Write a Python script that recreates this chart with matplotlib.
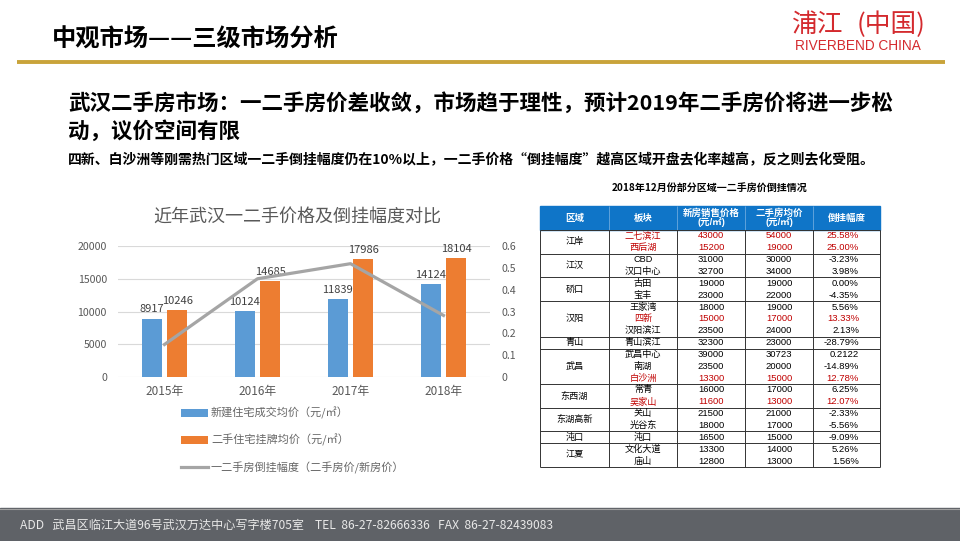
import matplotlib
matplotlib.use('Agg')
import matplotlib.pyplot as plt
import numpy as np
from matplotlib.patches import Rectangle

plt.rcParams['font.family'] = ['Noto Sans CJK SC', 'DejaVu Sans']

W, H = 960, 541

# chart data
years = ['2015年', '2016年', '2017年', '2018年']
new_price = [8917, 10124, 11839, 14124]
second_price = [10246, 14685, 17986, 18104]
gap_ratio = [0.149, 0.450, 0.519, 0.282]
series_names = ['新建住宅成交均价（元/㎡）', '二手住宅挂牌均价（元/㎡）',
                '一二手房倒挂幅度（二手房价/新房价）']
left_ticks = [0, 5000, 10000, 15000, 20000]
right_ticks = [0, 0.1, 0.2, 0.3, 0.4, 0.5, 0.6]
right_labels = ['0', '0.1', '0.2', '0.3', '0.4', '0.5', '0.6']

# table data
table_header = ['区域', '板块', '新房销售价格\n(元/㎡)', '二手房均价\n(元/㎡)', '倒挂幅度']
districts = ['江岸', '江汉', '硚口', '汉阳', '青山', '武昌', '东西湖', '东湖高新', '沌口', '江夏']
district_rows = [2, 2, 2, 3, 1, 3, 2, 2, 1, 2]
blocks = ['二七滨江', '西后湖', 'CBD', '汉口中心', '古田', '宝丰', '王家湾', '四新', '汉阳滨江',
          '青山滨江', '武昌中心', '南湖', '白沙洲', '常青', '吴家山', '关山', '光谷东', '沌口',
          '文化大道', '庙山']
block_new = [43000, 15200, 31000, 32700, 19000, 23000, 18000, 15000, 23500, 32300,
             39000, 23500, 13300, 16000, 11600, 21500, 18000, 16500, 13300, 12800]
block_second = [54000, 19000, 30000, 34000, 19000, 22000, 19000, 17000, 24000, 23000,
                30723, 20000, 15000, 17000, 13000, 21000, 17000, 15000, 14000, 13000]
block_ratio = ['25.58%', '25.00%', '-3.23%', '3.98%', '0.00%', '-4.35%', '5.56%', '13.33%',
               '2.13%', '-28.79%', '0.2122', '-14.89%', '12.78%', '6.25%', '12.07%',
               '-2.33%', '-5.56%', '-9.09%', '5.26%', '1.56%']
hot_blocks = ['二七滨江', '西后湖', '四新', '白沙洲', '吴家山']

fig = plt.figure(figsize=(9.6, 5.41), dpi=100)
bg = fig.add_axes([0, 0, 1, 1])
bg.set_xlim(0, W)
bg.set_ylim(H, 0)
bg.axis('off')

# header
bg.text(52, 40, '中观市场——三级市场分析', fontsize=17.5, fontweight='bold', va='center')
bg.plot([17, 945], [62, 62], color='#C9A33A', lw=2.8, solid_capstyle='butt')
bg.text(792, 25, '浦江', fontsize=18.5, color='#D42A2E', va='center', fontweight='light')
bg.text(857, 25, '(中国)', fontsize=18.5, color='#D42A2E', va='center', fontweight='light')
bg.text(795, 46, 'RIVERBEND CHINA', fontsize=9.8, color='#D42A2E', va='center',
        family=['Liberation Sans', 'DejaVu Sans'])

bg.text(68, 103, '武汉二手房市场：一二手房价差收敛，市场趋于理性，预计2019年二手房价将进一步松',
        fontsize=15.5, fontweight='bold', va='center')
bg.text(68, 131, '动，议价空间有限', fontsize=15.5, fontweight='bold', va='center')
bg.text(68, 160, '四新、白沙洲等刚需热门区域一二手倒挂幅度仍在10%以上，一二手价格“倒挂幅度”越高区域开盘去化率越高，反之则去化受阻。',
        fontsize=10, fontweight='bold', va='center')

# chart
ax = fig.add_axes([118 / W, (H - 377) / H, 372 / W, 131 / H])
x = np.arange(len(years))
bw, off = 0.215, 0.137
b1 = ax.bar(x - off, new_price, bw, color='#5B9BD5', label=series_names[0])
b2 = ax.bar(x + off, second_price, bw, color='#ED7D31', label=series_names[1])
ax.bar_label(b1, padding=3, fontsize=8, color='#404040')
ax.bar_label(b2, padding=3, fontsize=8, color='#404040')
ax.set_xlim(-0.5, 3.5)
ax.set_ylim(0, 20000)
ax.set_yticks(left_ticks)
ax.set_xticks(x, years)
ax.grid(axis='y', color='#D9D9D9', lw=0.8)
ax.set_axisbelow(True)
for s in ax.spines.values():
    s.set_visible(False)
ax.tick_params(axis='y', length=0, colors='#595959', labelsize=7.6, pad=8)
ax.tick_params(axis='x', length=0, colors='#595959', labelsize=8.5, pad=6)

ax2 = ax.twinx()
ln, = ax2.plot(x, gap_ratio, color='#A5A5A5', lw=2.3, label=series_names[2])
ax2.set_ylim(0, 0.6)
ax2.set_yticks(right_ticks, right_labels)
for s in ax2.spines.values():
    s.set_visible(False)
ax2.tick_params(axis='y', length=0, colors='#595959', labelsize=7.6, pad=8)

bg.text(297, 218, '近年武汉一二手价格及倒挂幅度对比', fontsize=13, color='#595959',
        ha='center', va='center')

fig.legend([b1, b2, ln], series_names, loc='upper left',
           bbox_to_anchor=(181 / W, 1 - 407 / H), frameon=False, fontsize=8,
           handlelength=2.4, handleheight=0.7, handletextpad=0.3, labelspacing=1.35,
           borderpad=0, borderaxespad=0, labelcolor='#666666')

# table
edges = [540, 609, 677, 745, 813, 880]
top, head_h, row_h = 206, 24, 11.85
centers = [(edges[i] + edges[i + 1]) / 2 for i in range(5)]
tfont = ['Liberation Sans', 'Noto Sans CJK SC']

bg.text(710, 188, '2018年12月份部分区域一二手房价倒挂情况', fontsize=7.2, fontweight='bold',
        ha='center', va='center')
bg.add_patch(Rectangle((edges[0], top), edges[-1] - edges[0], head_h, color='#0F75C8'))
bg.vlines(edges[1:-1], top, top + head_h, color='#7FB4E3', lw=0.5)
for c, t in zip(centers, table_header):
    bg.text(c, top + head_h / 2, t, fontsize=6.8, fontweight='bold', color='white',
            ha='center', va='center', linespacing=0.9, family=tfont)

y0 = top + head_h
for i, b in enumerate(blocks):
    yc = y0 + (i + 0.5) * row_h
    col = '#C00000' if b in hot_blocks else 'black'
    bg.text(centers[1], yc, b, fontsize=6.6, color=col, ha='center', va='center', family=tfont)
    bg.text(centers[2], yc, str(block_new[i]), fontsize=6.8, color=col, ha='center', va='center', family=tfont)
    bg.text(centers[3], yc, str(block_second[i]), fontsize=6.8, color=col, ha='center', va='center', family=tfont)
    bg.text(859, yc, block_ratio[i], fontsize=6.8, color=col, ha='right', va='center', family=tfont)

start = 0
bounds = [y0]
for d, n in zip(districts, district_rows):
    bg.text(centers[0], y0 + (start + n / 2) * row_h, d, fontsize=6.6, ha='center',
            va='center', family=tfont)
    start += n
    bounds.append(y0 + start * row_h)
bg.hlines(bounds, edges[0], edges[-1], color='#333333', lw=0.7)
bg.vlines(edges, y0, bounds[-1], color='#333333', lw=0.7)

# footer
bg.add_patch(Rectangle((0, 508), W, 33, color='#5F6267'))
bg.plot([0, W], [508.5, 508.5], color='#A0A0A0', lw=0.8)
bg.text(20, 525, 'ADD   武昌区临江大道96号武汉万达中心写字楼705室    TEL  86-27-82666336   FAX  86-27-82439083',
        fontsize=8.7, color='#E8E8E8', va='center')

fig.savefig('out.png', dpi=100)
